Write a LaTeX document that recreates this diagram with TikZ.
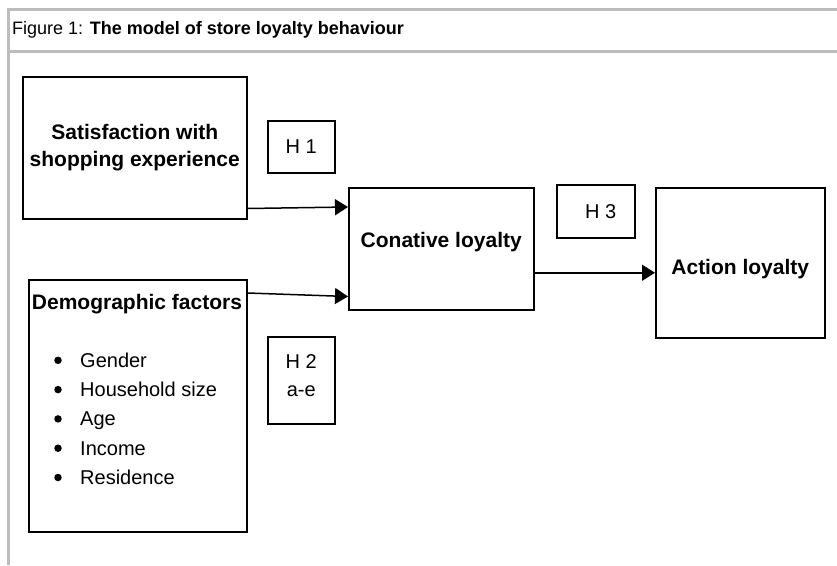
\documentclass[tikz,border=0pt]{standalone}
\usepackage{fontspec}
\setmainfont{Liberation Sans}
\usetikzlibrary{arrows.meta}
\definecolor{framegrey}{RGB}{189,189,189}
\tikzset{
  box/.style={draw, line width=1.5pt, inner sep=0pt, anchor=north west},
  hbox/.style={box, font=\fontsize{20}{28}\selectfont, align=center},
  title/.style={font=\fontsize{21}{27}\selectfont\bfseries, align=center},
  item/.style={font=\fontsize{20}{27}\selectfont, anchor=base west, inner sep=0pt},
  dot/.style={circle, fill, inner sep=0pt, minimum size=7.5pt},
  arr/.style={line width=1.5pt, -{Triangle[length=13pt,width=16pt]}}
}
\begin{document}
\begin{tikzpicture}[x=1pt,y=-1pt]
			\useasboundingbox (0,0) rectangle (837,565);
			% frame
			\draw[framegrey,line width=3pt] (837,9) -- (8,9) -- (8,565);
			\draw[framegrey,line width=3pt] (8,51) -- (837,51);
			\node[anchor=west,inner sep=0pt,font=\fontsize{18}{24}\selectfont] (cap) at (12,30)
				{Figure 1: \textbf{The model of store loyalty behaviour}};
			% boxes
			\node[box, minimum width=224pt, minimum height=142pt, title] (sat) at (22,76)
				{Satisfaction with\\shopping experience};
			\node[box, minimum width=218pt, minimum height=252pt] (demo) at (28,279) {};
			\node[title] (demotxt) at (137,304) {Demographic factors};
			\foreach \txt [count=\i] in {Gender,Household size,Age,Income,Residence} {
			\node[item] (f\i) at (80,338+29.3*\i) {\txt};
			\node[dot] (b\i) at (58,331+29.3*\i) {};
			}
			\node[box, minimum width=185pt, minimum height=122pt, title,
				text height=14pt, text depth=17pt] (con) at (348,187) {Conative loyalty};
			\node[box, minimum width=169pt, minimum height=150pt, title,
				text height=27pt, text depth=4pt] (act) at (655,187) {Action loyalty};
			\node[hbox, minimum width=67pt, minimum height=52pt] (h1) at (267,120) {H 1};
			\node[hbox, minimum width=67pt, minimum height=87pt] (h2) at (267,336)
				{H 2\\a-e\\[-18pt]};
			\node[hbox, minimum width=78pt, minimum height=53pt] (h3) at (556,184) {\hspace*{10pt}H 3};
			% arrows
			\draw[arr] ([yshift=11pt]sat.south east) -- ([yshift=-20pt]con.north west);
			\draw[arr] ([yshift=-14pt]demo.north east) -- ([yshift=14pt]con.south west);
			\draw[arr] ([yshift=-24pt]con.east) -- ([yshift=-10pt]act.west);
\end{tikzpicture}
\end{document}
